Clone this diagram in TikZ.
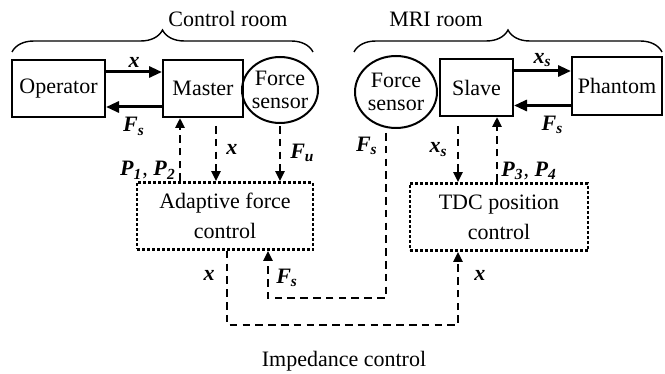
\documentclass[tikz,border=0pt]{standalone}
\usepackage{fontspec}
\setmainfont{Liberation Serif}
\usetikzlibrary{arrows.meta,positioning,shapes.geometric,decorations.pathreplacing}
\newcommand{\bi}[1]{\textbf{\textit{#1}}}
\newcommand{\varlab}[2]{\bi{#1}\textsubscript{\bi{#2}}}

\begin{document}
\begin{tikzpicture}[
  x=0.5pt, y=-0.5pt,
  font=\fontsize{11}{13}\selectfont,
  blk/.style={draw, line width=1pt, inner sep=0pt},
  sens/.style={draw, ellipse, line width=1pt, align=center,
               inner sep=-4pt, font=\fontsize{11}{11.5}\selectfont},
  ctrl/.style={draw, line width=1.4pt, dash pattern=on 1.3pt off 1.2pt,
               align=center, inner sep=0pt, font=\fontsize{11}{15}\selectfont},
  flow/.style={-{Triangle[length=6.5pt,width=5.5pt]}, line width=1.5pt},
  sig/.style={-{Triangle[length=5pt,width=4.5pt]}, line width=1.3pt,
              dash pattern=on 3.8pt off 2.6pt},
  lbl/.style={font=\fontsize{11}{12}\selectfont, inner sep=1.5pt},
  room/.style={decorate, decoration={brace, amplitude=11pt}, line width=0.7pt}
]
\useasboundingbox (0,0) rectangle (665,374);
% Blocks
\node[blk, minimum width=46.5pt, minimum height=28.5pt] (operator) at (58.5,88.5) {Operator};
\node[blk, minimum width=40pt, minimum height=28.5pt] (master) at (203,88.5) {Master};
\node[sens, minimum width=38pt, minimum height=33pt] (fsl) at (280,90) {Force\\sensor};
\node[sens, minimum width=41pt, minimum height=36pt] (fsr) at (396,92) {Force\\sensor};
\node[blk, minimum width=36.5pt, minimum height=28.5pt] (slave) at (476.5,87.5) {Slave};
\node[blk, minimum width=45pt, minimum height=29pt] (phantom) at (617,86) {Phantom};
\node[ctrl, minimum width=88pt, minimum height=33.5pt] (afc) at (225,216) {Adaptive force\\control};
\node[ctrl, minimum width=89pt, minimum height=33.5pt] (tdc) at (499,217) {TDC position\\control};
% Rooms
\draw[room] (12,52) -- (313,52);
\node (croom) at (228,19) {Control room};
\draw[room] (354,52) -- (662,52);
\node (mroom) at (436,19) {MRI room};
\node (imp) at (344,361) {Impedance control};
% Solid flows
\draw[flow] ([yshift=8.25pt]operator.east) coordinate (ox) -- (ox -| master.west)
  node[lbl, midway, above] {\bi{x}};
\draw[flow] ([yshift=-9.25pt]master.west) coordinate (mf) -- (mf -| operator.east)
  node[lbl, midway, below=3pt] {\varlab{F}{s}};
\draw[flow] ([yshift=8.25pt]slave.east) coordinate (sx) -- (sx -| phantom.west)
  node[lbl, midway, above] {\varlab{x}{s}};
\draw[flow] ([yshift=-9.75pt]phantom.west) coordinate (pf) -- (pf -| slave.east)
  node[lbl, midway, below=3pt, xshift=5pt] {\varlab{F}{s}};
% Dashed signals, control room
\coordinate (p12) at ([xshift=-11.5pt]master.south);
\draw[sig] (p12 |- afc.north) -- (p12)
  node[lbl, pos=0.17, left] {\bi{P}\textsubscript{\bi{1}}, \bi{P}\textsubscript{\bi{2}}};
\coordinate (mx) at ([xshift=6.5pt]master.south);
\draw[sig, shorten <=4pt] (mx) -- (mx |- afc.north)
  node[lbl, midway, right=3pt] {\bi{x}};
\draw[sig, shorten <=1pt] (fsl.south) -- (fsl.south |- afc.north)
  node[lbl, midway, right=3pt] {\varlab{F}{u}};
% Dashed signals, MRI room
\coordinate (xsd) at ([xshift=-9.25pt]slave.south);
\draw[sig, shorten <=4.5pt] (xsd) -- (xsd |- tdc.north)
  node[lbl, midway, left=3pt] {\varlab{x}{s}};
\coordinate (p34) at ([xshift=10.25pt]slave.south);
\draw[sig] (p34 |- tdc.north) -- (p34)
  node[lbl, pos=0.17, right] {\bi{P}\textsubscript{\bi{3}}, \bi{P}\textsubscript{\bi{4}}};
% Cross links
\coordinate (lowF) at (0,298);
\coordinate (lowX) at (0,325);
\coordinate (fsd) at ([xshift=-5pt]fsr.south);
\coordinate (fsin) at ([xshift=21.5pt]afc.south);
\draw[sig, shorten <=2pt] (fsd) -- (fsd |- lowF)
  node[lbl, pos=0.1, left=2pt] {\varlab{F}{s}}
  -| (fsin) node[lbl, pos=0.71, right=2pt] {\varlab{F}{s}};
\coordinate (xout) at ([xshift=1pt]afc.south);
\coordinate (xin) at ([xshift=-20.5pt]tdc.south);
\draw[sig] (xout) -- (xout |- lowX)
  node[lbl, pos=0.33, left=4pt] {\bi{x}}
  -| (xin) node[lbl, pos=0.84, right=6pt] {\bi{x}};
\end{tikzpicture}
\end{document}
